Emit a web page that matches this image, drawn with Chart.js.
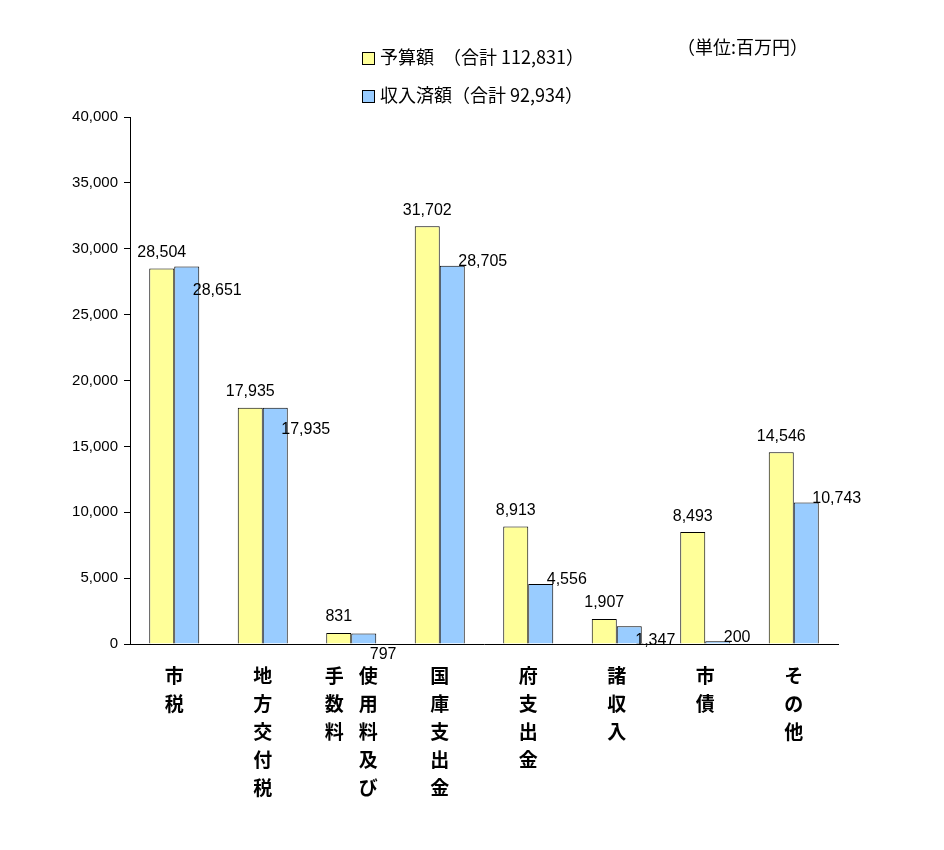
<!DOCTYPE html>
<html><head><meta charset="utf-8">
<script src="https://cdn.jsdelivr.net/npm/chart.js@4"></script>
<style>body{margin:0;background:#fff;font-family:"Noto Sans CJK JP";}
#w{position:relative;width:944px;height:850px;}
.t{position:absolute;font-size:18px;color:#000;white-space:pre;}
.sq{position:absolute;width:11px;height:11px;border:1px solid #000;}
</style></head><body>
<div id="w"><canvas id="c" width="944" height="850"></canvas>
<div class="sq" style="left:362px;top:52px;background:#FFFF99"></div>
<div class="t" style="left:380px;top:43px">予算額　（合計 112,831）</div>
<div class="sq" style="left:362px;top:90px;background:#99CCFF"></div>
<div class="t" style="left:380px;top:81px">収入済額（合計 92,934）</div>
<div class="t" style="left:677px;top:33px">（単位:百万円）</div>
</div>
<script>
const categories=[["市税"],["地方交付税"],["使用料及び","手数料"],["国庫支出金"],["府支出金"],["諸収入"],["市債"],["その他"]];
const budget=[28504,17935,831,31702,8913,1907,8493,14546];
const received=[28651,17935,797,28705,4556,1347,200,10743];
const yTicks=[0,5000,10000,15000,20000,25000,30000,35000,40000];
const fmt=v=>v.toLocaleString('en-US');
const lbl={id:'lbl',afterDatasetsDraw(ch){const c=ch.ctx;c.save();c.fillStyle='#000';
 c.font='16px "Liberation Sans"';c.textBaseline='bottom';
 const m0=ch.getDatasetMeta(0),m1=ch.getDatasetMeta(1);
 m0.data.forEach((b,i)=>{c.textAlign='center';c.fillText(fmt(budget[i]),b.x,b.y-8);});
 m1.data.forEach((b,i)=>{c.textAlign='left';c.fillText(fmt(received[i]),b.x+6,Math.max(b.y+4,m0.data[i].y+30));});
 c.font='bold 19px "Noto Sans CJK JP"';c.textAlign='center';c.textBaseline='middle';
 const x=ch.scales.x;
 categories.forEach((cols,i)=>{const cx=x.getPixelForValue(i);
  cols.forEach((s,j)=>{const xx=cols.length>1?cx+17-j*34:cx;[...s].forEach((ch2,k)=>c.fillText(ch2,xx,676+k*28));});});
 c.restore();}};
new Chart(document.getElementById('c'),{type:'bar',
 data:{labels:categories.map(a=>a.join('')),datasets:[
  {data:budget,backgroundColor:'#FFFF99',borderColor:'#000',borderWidth:1},
  {data:received,backgroundColor:'#99CCFF',borderColor:'#000',borderWidth:1}]},
 options:{responsive:false,animation:false,events:[],
  layout:{padding:{left:0,right:106,top:117,bottom:0}},
  plugins:{legend:{display:false},tooltip:{enabled:false}},
  datasets:{bar:{categoryPercentage:0.565,barPercentage:1}},
  scales:{
   x:{ticks:{display:false},grid:{display:false,drawTicks:false},border:{color:'#000'},afterFit:s=>{s.height=206;}},
   y:{min:0,max:40000,afterBuildTicks:s=>{s.ticks=yTicks.map(v=>({value:v}));},
      ticks:{color:'#000',font:{size:15,family:'Liberation Sans'},callback:v=>fmt(v),padding:6},
      grid:{display:true,drawOnChartArea:false,tickLength:6,color:'#000'},border:{color:'#000'},
      afterFit:s=>{s.width=130;}}}},
 plugins:[lbl]});
</script></body></html>
